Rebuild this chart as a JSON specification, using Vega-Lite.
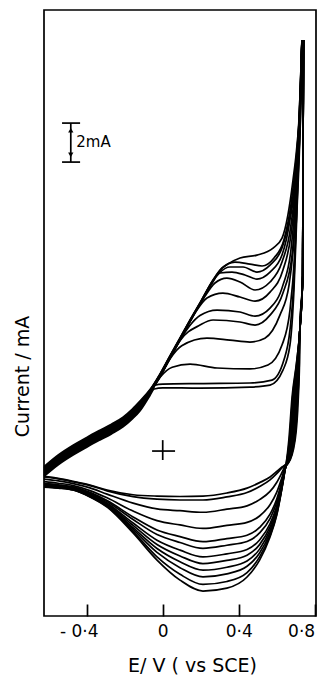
{
"$schema":"https://vega.github.io/schema/vega-lite/v6.json",
"width":272,"height":606,
"autosize":{"type":"none"},
"padding":{"left":44,"top":10,"right":8,"bottom":60},
"background":"white",
"config":{"view":{"stroke":"black","strokeWidth":1.7},"font":"DejaVu Sans"},
"datasets":{
"cv":[
{"s":"a1","E":-0.625,"I":-1.30},{"s":"a1","E":-0.55,"I":-0.70},{"s":"a1","E":-0.472,"I":-0.20},{"s":"a1","E":-0.40,"I":0.20},{"s":"a1","E":-0.33,"I":0.57},{"s":"a1","E":-0.27,"I":0.88},{"s":"a1","E":-0.209,"I":1.24},{"s":"a1","E":-0.16,"I":1.65},{"s":"a1","E":-0.12,"I":2.06},{"s":"a1","E":-0.067,"I":2.85},{"s":"a1","E":-0.045,"I":3.18},{"s":"a1","E":0.0,"I":3.24},{"s":"a1","E":0.196,"I":3.23},{"s":"a1","E":0.459,"I":3.28},{"s":"a1","E":0.565,"I":3.38},{"s":"a1","E":0.633,"I":4.15},{"s":"a1","E":0.670,"I":5.44},{"s":"a1","E":0.691,"I":8.26},{"s":"a1","E":0.707,"I":12.36},{"s":"a1","E":0.723,"I":16.46},{"s":"a1","E":0.733,"I":20.82},
{"s":"a2","E":-0.625,"I":-1.25},{"s":"a2","E":-0.55,"I":-0.65},{"s":"a2","E":-0.472,"I":-0.15},{"s":"a2","E":-0.40,"I":0.25},{"s":"a2","E":-0.33,"I":0.62},{"s":"a2","E":-0.27,"I":0.93},{"s":"a2","E":-0.209,"I":1.29},{"s":"a2","E":-0.16,"I":1.70},{"s":"a2","E":-0.12,"I":2.11},{"s":"a2","E":-0.067,"I":2.95},{"s":"a2","E":-0.04,"I":3.38},{"s":"a2","E":0.0,"I":3.43},{"s":"a2","E":0.196,"I":3.46},{"s":"a2","E":0.459,"I":3.49},{"s":"a2","E":0.575,"I":3.64},{"s":"a2","E":0.638,"I":4.67},{"s":"a2","E":0.670,"I":6.21},{"s":"a2","E":0.691,"I":8.77},{"s":"a2","E":0.707,"I":12.87},{"s":"a2","E":0.723,"I":16.97},{"s":"a2","E":0.733,"I":20.97},
{"s":"a3","E":-0.625,"I":-1.21},{"s":"a3","E":-0.55,"I":-0.61},{"s":"a3","E":-0.472,"I":-0.11},{"s":"a3","E":-0.40,"I":0.29},{"s":"a3","E":-0.33,"I":0.66},{"s":"a3","E":-0.27,"I":0.97},{"s":"a3","E":-0.209,"I":1.33},{"s":"a3","E":-0.16,"I":1.74},{"s":"a3","E":-0.12,"I":2.15},{"s":"a3","E":-0.067,"I":2.95},{"s":"a3","E":-0.014,"I":3.78},{"s":"a3","E":0.05,"I":4.30},{"s":"a3","E":0.144,"I":4.46},{"s":"a3","E":0.286,"I":4.26},{"s":"a3","E":0.459,"I":4.21},{"s":"a3","E":0.554,"I":4.41},{"s":"a3","E":0.628,"I":5.44},{"s":"a3","E":0.670,"I":7.23},{"s":"a3","E":0.696,"I":10.31},{"s":"a3","E":0.712,"I":13.90},{"s":"a3","E":0.723,"I":17.49},{"s":"a3","E":0.733,"I":20.97},
{"s":"a4","E":-0.625,"I":-1.16},{"s":"a4","E":-0.55,"I":-0.56},{"s":"a4","E":-0.472,"I":-0.06},{"s":"a4","E":-0.40,"I":0.34},{"s":"a4","E":-0.33,"I":0.71},{"s":"a4","E":-0.27,"I":1.02},{"s":"a4","E":-0.209,"I":1.38},{"s":"a4","E":-0.16,"I":1.79},{"s":"a4","E":-0.12,"I":2.20},{"s":"a4","E":-0.067,"I":3.00},{"s":"a4","E":-0.014,"I":3.80},{"s":"a4","E":0.038,"I":4.72},{"s":"a4","E":0.10,"I":5.40},{"s":"a4","E":0.233,"I":5.79},{"s":"a4","E":0.354,"I":5.69},{"s":"a4","E":0.459,"I":5.59},{"s":"a4","E":0.538,"I":5.79},{"s":"a4","E":0.617,"I":6.97},{"s":"a4","E":0.665,"I":8.51},{"s":"a4","E":0.691,"I":10.82},{"s":"a4","E":0.712,"I":14.41},{"s":"a4","E":0.728,"I":18.00},{"s":"a4","E":0.733,"I":20.97},
{"s":"a5","E":-0.625,"I":-1.12},{"s":"a5","E":-0.55,"I":-0.52},{"s":"a5","E":-0.472,"I":-0.02},{"s":"a5","E":-0.40,"I":0.38},{"s":"a5","E":-0.33,"I":0.75},{"s":"a5","E":-0.27,"I":1.06},{"s":"a5","E":-0.209,"I":1.42},{"s":"a5","E":-0.16,"I":1.83},{"s":"a5","E":-0.12,"I":2.24},{"s":"a5","E":-0.067,"I":3.03},{"s":"a5","E":-0.014,"I":3.82},{"s":"a5","E":0.038,"I":4.74},{"s":"a5","E":0.091,"I":5.66},{"s":"a5","E":0.196,"I":6.46},{"s":"a5","E":0.265,"I":6.72},{"s":"a5","E":0.407,"I":6.62},{"s":"a5","E":0.486,"I":6.46},{"s":"a5","E":0.565,"I":6.97},{"s":"a5","E":0.633,"I":8.10},{"s":"a5","E":0.681,"I":10.05},{"s":"a5","E":0.707,"I":13.90},{"s":"a5","E":0.723,"I":17.49},{"s":"a5","E":0.733,"I":21.03},
{"s":"a6","E":-0.625,"I":-1.07},{"s":"a6","E":-0.55,"I":-0.47},{"s":"a6","E":-0.472,"I":0.03},{"s":"a6","E":-0.40,"I":0.43},{"s":"a6","E":-0.33,"I":0.80},{"s":"a6","E":-0.27,"I":1.11},{"s":"a6","E":-0.209,"I":1.47},{"s":"a6","E":-0.16,"I":1.88},{"s":"a6","E":-0.12,"I":2.29},{"s":"a6","E":-0.067,"I":3.03},{"s":"a6","E":-0.014,"I":3.84},{"s":"a6","E":0.038,"I":4.76},{"s":"a6","E":0.091,"I":5.68},{"s":"a6","E":0.144,"I":6.45},{"s":"a6","E":0.196,"I":6.95},{"s":"a6","E":0.286,"I":7.23},{"s":"a6","E":0.407,"I":7.13},{"s":"a6","E":0.486,"I":6.92},{"s":"a6","E":0.565,"I":7.33},{"s":"a6","E":0.633,"I":8.51},{"s":"a6","E":0.675,"I":10.31},{"s":"a6","E":0.707,"I":14.15},{"s":"a6","E":0.723,"I":17.74},{"s":"a6","E":0.733,"I":21.03},
{"s":"a7","E":-0.625,"I":-1.03},{"s":"a7","E":-0.55,"I":-0.43},{"s":"a7","E":-0.472,"I":0.07},{"s":"a7","E":-0.40,"I":0.47},{"s":"a7","E":-0.33,"I":0.84},{"s":"a7","E":-0.27,"I":1.15},{"s":"a7","E":-0.209,"I":1.51},{"s":"a7","E":-0.16,"I":1.92},{"s":"a7","E":-0.12,"I":2.33},{"s":"a7","E":-0.067,"I":3.03},{"s":"a7","E":-0.014,"I":3.86},{"s":"a7","E":0.038,"I":4.78},{"s":"a7","E":0.091,"I":5.70},{"s":"a7","E":0.144,"I":6.63},{"s":"a7","E":0.175,"I":7.15},{"s":"a7","E":0.233,"I":7.85},{"s":"a7","E":0.317,"I":8.10},{"s":"a7","E":0.407,"I":7.90},{"s":"a7","E":0.486,"I":7.69},{"s":"a7","E":0.565,"I":8.15},{"s":"a7","E":0.633,"I":9.28},{"s":"a7","E":0.675,"I":11.08},{"s":"a7","E":0.707,"I":14.41},{"s":"a7","E":0.723,"I":18.00},{"s":"a7","E":0.733,"I":21.03},
{"s":"a8","E":-0.625,"I":-0.98},{"s":"a8","E":-0.55,"I":-0.38},{"s":"a8","E":-0.472,"I":0.12},{"s":"a8","E":-0.40,"I":0.52},{"s":"a8","E":-0.33,"I":0.89},{"s":"a8","E":-0.27,"I":1.20},{"s":"a8","E":-0.209,"I":1.56},{"s":"a8","E":-0.16,"I":1.97},{"s":"a8","E":-0.12,"I":2.38},{"s":"a8","E":-0.067,"I":3.05},{"s":"a8","E":-0.014,"I":3.88},{"s":"a8","E":0.038,"I":4.80},{"s":"a8","E":0.091,"I":5.72},{"s":"a8","E":0.144,"I":6.65},{"s":"a8","E":0.196,"I":7.52},{"s":"a8","E":0.223,"I":7.95},{"s":"a8","E":0.275,"I":8.62},{"s":"a8","E":0.338,"I":8.87},{"s":"a8","E":0.407,"I":8.67},{"s":"a8","E":0.486,"I":8.26},{"s":"a8","E":0.565,"I":8.67},{"s":"a8","E":0.628,"I":9.69},{"s":"a8","E":0.675,"I":11.59},{"s":"a8","E":0.707,"I":14.67},{"s":"a8","E":0.723,"I":18.00},{"s":"a8","E":0.733,"I":21.08},
{"s":"a9","E":-0.625,"I":-0.94},{"s":"a9","E":-0.55,"I":-0.34},{"s":"a9","E":-0.472,"I":0.16},{"s":"a9","E":-0.40,"I":0.56},{"s":"a9","E":-0.33,"I":0.93},{"s":"a9","E":-0.27,"I":1.24},{"s":"a9","E":-0.209,"I":1.60},{"s":"a9","E":-0.16,"I":2.01},{"s":"a9","E":-0.12,"I":2.42},{"s":"a9","E":-0.067,"I":3.07},{"s":"a9","E":-0.014,"I":3.90},{"s":"a9","E":0.038,"I":4.82},{"s":"a9","E":0.091,"I":5.74},{"s":"a9","E":0.144,"I":6.67},{"s":"a9","E":0.196,"I":7.54},{"s":"a9","E":0.254,"I":8.51},{"s":"a9","E":0.302,"I":9.13},{"s":"a9","E":0.365,"I":9.18},{"s":"a9","E":0.433,"I":9.03},{"s":"a9","E":0.496,"I":8.82},{"s":"a9","E":0.565,"I":9.18},{"s":"a9","E":0.628,"I":10.05},{"s":"a9","E":0.670,"I":11.85},{"s":"a9","E":0.707,"I":14.92},{"s":"a9","E":0.723,"I":18.26},{"s":"a9","E":0.733,"I":21.08},
{"s":"a10","E":-0.625,"I":-0.89},{"s":"a10","E":-0.55,"I":-0.29},{"s":"a10","E":-0.472,"I":0.21},{"s":"a10","E":-0.40,"I":0.61},{"s":"a10","E":-0.33,"I":0.98},{"s":"a10","E":-0.27,"I":1.29},{"s":"a10","E":-0.209,"I":1.65},{"s":"a10","E":-0.16,"I":2.06},{"s":"a10","E":-0.12,"I":2.47},{"s":"a10","E":-0.067,"I":3.10},{"s":"a10","E":-0.014,"I":3.92},{"s":"a10","E":0.038,"I":4.84},{"s":"a10","E":0.091,"I":5.76},{"s":"a10","E":0.144,"I":6.69},{"s":"a10","E":0.196,"I":7.56},{"s":"a10","E":0.265,"I":8.74},{"s":"a10","E":0.300,"I":9.15},{"s":"a10","E":0.354,"I":9.44},{"s":"a10","E":0.423,"I":9.44},{"s":"a10","E":0.496,"I":9.18},{"s":"a10","E":0.565,"I":9.54},{"s":"a10","E":0.628,"I":10.41},{"s":"a10","E":0.670,"I":12.10},{"s":"a10","E":0.707,"I":15.18},{"s":"a10","E":0.723,"I":18.26},{"s":"a10","E":0.733,"I":21.08},
{"s":"a11","E":-0.625,"I":-0.85},{"s":"a11","E":-0.55,"I":-0.25},{"s":"a11","E":-0.472,"I":0.25},{"s":"a11","E":-0.40,"I":0.65},{"s":"a11","E":-0.33,"I":1.02},{"s":"a11","E":-0.27,"I":1.33},{"s":"a11","E":-0.209,"I":1.69},{"s":"a11","E":-0.16,"I":2.10},{"s":"a11","E":-0.12,"I":2.51},{"s":"a11","E":-0.067,"I":3.12},{"s":"a11","E":-0.014,"I":3.94},{"s":"a11","E":0.038,"I":4.86},{"s":"a11","E":0.091,"I":5.78},{"s":"a11","E":0.144,"I":6.71},{"s":"a11","E":0.196,"I":7.58},{"s":"a11","E":0.265,"I":8.76},{"s":"a11","E":0.312,"I":9.37},{"s":"a11","E":0.380,"I":9.69},{"s":"a11","E":0.459,"I":9.59},{"s":"a11","E":0.523,"I":9.49},{"s":"a11","E":0.586,"I":9.90},{"s":"a11","E":0.638,"I":10.82},{"s":"a11","E":0.675,"I":12.62},{"s":"a11","E":0.707,"I":15.44},{"s":"a11","E":0.728,"I":18.51},{"s":"a11","E":0.733,"I":21.08},
{"s":"a12","E":-0.625,"I":-0.80},{"s":"a12","E":-0.55,"I":-0.20},{"s":"a12","E":-0.472,"I":0.30},{"s":"a12","E":-0.40,"I":0.70},{"s":"a12","E":-0.33,"I":1.07},{"s":"a12","E":-0.27,"I":1.38},{"s":"a12","E":-0.209,"I":1.74},{"s":"a12","E":-0.16,"I":2.15},{"s":"a12","E":-0.12,"I":2.56},{"s":"a12","E":-0.067,"I":3.15},{"s":"a12","E":-0.014,"I":3.96},{"s":"a12","E":0.038,"I":4.88},{"s":"a12","E":0.091,"I":5.80},{"s":"a12","E":0.144,"I":6.73},{"s":"a12","E":0.196,"I":7.60},{"s":"a12","E":0.265,"I":8.78},{"s":"a12","E":0.312,"I":9.39},{"s":"a12","E":0.344,"I":9.60},{"s":"a12","E":0.407,"I":9.90},{"s":"a12","E":0.496,"I":10.05},{"s":"a12","E":0.581,"I":10.41},{"s":"a12","E":0.628,"I":10.92},{"s":"a12","E":0.659,"I":12.10},{"s":"a12","E":0.686,"I":13.90},{"s":"a12","E":0.707,"I":15.69},{"s":"a12","E":0.728,"I":18.77},{"s":"a12","E":0.733,"I":21.08},
{"s":"c1","E":0.741,"I":21.08},{"s":"c1","E":0.739,"I":16.0},{"s":"c1","E":0.737,"I":9.0},{"s":"c1","E":0.722,"I":6.2},{"s":"c1","E":0.720,"I":4.5},{"s":"c1","E":0.714,"I":2.77},{"s":"c1","E":0.697,"I":0.56},{"s":"c1","E":0.661,"I":-0.62},{"s":"c1","E":0.644,"I":-0.72},{"s":"c1","E":0.628,"I":-0.82},{"s":"c1","E":0.600,"I":-1.05},{"s":"c1","E":0.565,"I":-1.33},{"s":"c1","E":0.510,"I":-1.62},{"s":"c1","E":0.444,"I":-1.90},{"s":"c1","E":0.338,"I":-2.15},{"s":"c1","E":0.212,"I":-2.31},{"s":"c1","E":0.091,"I":-2.33},{"s":"c1","E":-0.030,"I":-2.31},{"s":"c1","E":-0.156,"I":-2.24},{"s":"c1","E":-0.293,"I":-2.00},{"s":"c1","E":-0.383,"I":-1.74},{"s":"c1","E":-0.471,"I":-1.55},{"s":"c1","E":-0.550,"I":-1.40},{"s":"c1","E":-0.625,"I":-1.30},
{"s":"c2","E":0.741,"I":21.08},{"s":"c2","E":0.739,"I":16.0},{"s":"c2","E":0.737,"I":9.0},{"s":"c2","E":0.722,"I":6.2},{"s":"c2","E":0.719,"I":4.5},{"s":"c2","E":0.711,"I":2.77},{"s":"c2","E":0.694,"I":0.56},{"s":"c2","E":0.660,"I":-0.62},{"s":"c2","E":0.644,"I":-0.73},{"s":"c2","E":0.628,"I":-0.87},{"s":"c2","E":0.600,"I":-1.16},{"s":"c2","E":0.565,"I":-1.48},{"s":"c2","E":0.510,"I":-1.82},{"s":"c2","E":0.444,"I":-2.13},{"s":"c2","E":0.338,"I":-2.35},{"s":"c2","E":0.212,"I":-2.51},{"s":"c2","E":0.091,"I":-2.51},{"s":"c2","E":-0.030,"I":-2.47},{"s":"c2","E":-0.156,"I":-2.34},{"s":"c2","E":-0.293,"I":-2.04},{"s":"c2","E":-0.383,"I":-1.77},{"s":"c2","E":-0.471,"I":-1.58},{"s":"c2","E":-0.550,"I":-1.43},{"s":"c2","E":-0.625,"I":-1.33},
{"s":"c3","E":0.741,"I":21.08},{"s":"c3","E":0.739,"I":16.0},{"s":"c3","E":0.737,"I":9.0},{"s":"c3","E":0.722,"I":6.2},{"s":"c3","E":0.717,"I":4.5},{"s":"c3","E":0.708,"I":2.77},{"s":"c3","E":0.691,"I":0.56},{"s":"c3","E":0.659,"I":-0.62},{"s":"c3","E":0.644,"I":-0.79},{"s":"c3","E":0.628,"I":-1.10},{"s":"c3","E":0.600,"I":-1.61},{"s":"c3","E":0.565,"I":-2.07},{"s":"c3","E":0.510,"I":-2.49},{"s":"c3","E":0.444,"I":-2.81},{"s":"c3","E":0.338,"I":-2.98},{"s":"c3","E":0.212,"I":-3.14},{"s":"c3","E":0.091,"I":-3.06},{"s":"c3","E":-0.030,"I":-2.97},{"s":"c3","E":-0.156,"I":-2.67},{"s":"c3","E":-0.293,"I":-2.21},{"s":"c3","E":-0.383,"I":-1.89},{"s":"c3","E":-0.471,"I":-1.67},{"s":"c3","E":-0.550,"I":-1.53},{"s":"c3","E":-0.625,"I":-1.44},
{"s":"c4","E":0.741,"I":21.08},{"s":"c4","E":0.739,"I":16.0},{"s":"c4","E":0.737,"I":9.0},{"s":"c4","E":0.722,"I":6.2},{"s":"c4","E":0.716,"I":4.5},{"s":"c4","E":0.705,"I":2.77},{"s":"c4","E":0.688,"I":0.56},{"s":"c4","E":0.658,"I":-0.62},{"s":"c4","E":0.644,"I":-0.84},{"s":"c4","E":0.628,"I":-1.35},{"s":"c4","E":0.600,"I":-2.12},{"s":"c4","E":0.565,"I":-2.75},{"s":"c4","E":0.510,"I":-3.33},{"s":"c4","E":0.444,"I":-3.66},{"s":"c4","E":0.338,"I":-3.81},{"s":"c4","E":0.212,"I":-3.97},{"s":"c4","E":0.091,"I":-3.79},{"s":"c4","E":-0.030,"I":-3.57},{"s":"c4","E":-0.156,"I":-3.08},{"s":"c4","E":-0.293,"I":-2.40},{"s":"c4","E":-0.383,"I":-2.03},{"s":"c4","E":-0.471,"I":-1.77},{"s":"c4","E":-0.550,"I":-1.65},{"s":"c4","E":-0.625,"I":-1.57},
{"s":"c5","E":0.741,"I":21.08},{"s":"c5","E":0.739,"I":16.0},{"s":"c5","E":0.737,"I":9.0},{"s":"c5","E":0.722,"I":6.2},{"s":"c5","E":0.714,"I":4.5},{"s":"c5","E":0.702,"I":2.77},{"s":"c5","E":0.685,"I":0.56},{"s":"c5","E":0.657,"I":-0.62},{"s":"c5","E":0.644,"I":-0.88},{"s":"c5","E":0.628,"I":-1.52},{"s":"c5","E":0.600,"I":-2.47},{"s":"c5","E":0.565,"I":-3.24},{"s":"c5","E":0.510,"I":-3.92},{"s":"c5","E":0.444,"I":-4.32},{"s":"c5","E":0.338,"I":-4.49},{"s":"c5","E":0.212,"I":-4.65},{"s":"c5","E":0.091,"I":-4.39},{"s":"c5","E":-0.030,"I":-4.05},{"s":"c5","E":-0.156,"I":-3.38},{"s":"c5","E":-0.293,"I":-2.54},{"s":"c5","E":-0.383,"I":-2.12},{"s":"c5","E":-0.471,"I":-1.84},{"s":"c5","E":-0.550,"I":-1.73},{"s":"c5","E":-0.625,"I":-1.66},
{"s":"c6","E":0.741,"I":21.08},{"s":"c6","E":0.739,"I":16.0},{"s":"c6","E":0.737,"I":9.0},{"s":"c6","E":0.722,"I":6.2},{"s":"c6","E":0.713,"I":4.5},{"s":"c6","E":0.699,"I":2.77},{"s":"c6","E":0.682,"I":0.56},{"s":"c6","E":0.656,"I":-0.62},{"s":"c6","E":0.644,"I":-0.90},{"s":"c6","E":0.628,"I":-1.60},{"s":"c6","E":0.600,"I":-2.63},{"s":"c6","E":0.565,"I":-3.46},{"s":"c6","E":0.510,"I":-4.20},{"s":"c6","E":0.444,"I":-4.64},{"s":"c6","E":0.338,"I":-4.83},{"s":"c6","E":0.212,"I":-4.99},{"s":"c6","E":0.091,"I":-4.69},{"s":"c6","E":-0.030,"I":-4.28},{"s":"c6","E":-0.156,"I":-3.51},{"s":"c6","E":-0.293,"I":-2.60},{"s":"c6","E":-0.383,"I":-2.17},{"s":"c6","E":-0.471,"I":-1.87},{"s":"c6","E":-0.550,"I":-1.76},{"s":"c6","E":-0.625,"I":-1.70},
{"s":"c7","E":0.741,"I":21.08},{"s":"c7","E":0.739,"I":16.0},{"s":"c7","E":0.737,"I":9.0},{"s":"c7","E":0.722,"I":6.2},{"s":"c7","E":0.711,"I":4.5},{"s":"c7","E":0.696,"I":2.77},{"s":"c7","E":0.679,"I":0.56},{"s":"c7","E":0.655,"I":-0.62},{"s":"c7","E":0.644,"I":-0.92},{"s":"c7","E":0.628,"I":-1.69},{"s":"c7","E":0.600,"I":-2.83},{"s":"c7","E":0.565,"I":-3.73},{"s":"c7","E":0.510,"I":-4.56},{"s":"c7","E":0.444,"I":-5.05},{"s":"c7","E":0.338,"I":-5.27},{"s":"c7","E":0.212,"I":-5.43},{"s":"c7","E":0.091,"I":-5.08},{"s":"c7","E":-0.030,"I":-4.57},{"s":"c7","E":-0.156,"I":-3.69},{"s":"c7","E":-0.293,"I":-2.68},{"s":"c7","E":-0.383,"I":-2.22},{"s":"c7","E":-0.471,"I":-1.91},{"s":"c7","E":-0.550,"I":-1.81},{"s":"c7","E":-0.625,"I":-1.75},
{"s":"c8","E":0.741,"I":21.08},{"s":"c8","E":0.739,"I":16.0},{"s":"c8","E":0.737,"I":9.0},{"s":"c8","E":0.722,"I":6.2},{"s":"c8","E":0.710,"I":4.5},{"s":"c8","E":0.693,"I":2.77},{"s":"c8","E":0.676,"I":0.56},{"s":"c8","E":0.654,"I":-0.62},{"s":"c8","E":0.644,"I":-0.94},{"s":"c8","E":0.628,"I":-1.75},{"s":"c8","E":0.600,"I":-2.95},{"s":"c8","E":0.565,"I":-3.89},{"s":"c8","E":0.510,"I":-4.80},{"s":"c8","E":0.444,"I":-5.34},{"s":"c8","E":0.338,"I":-5.61},{"s":"c8","E":0.212,"I":-5.77},{"s":"c8","E":0.091,"I":-5.38},{"s":"c8","E":-0.030,"I":-4.79},{"s":"c8","E":-0.156,"I":-3.81},{"s":"c8","E":-0.293,"I":-2.72},{"s":"c8","E":-0.383,"I":-2.26},{"s":"c8","E":-0.471,"I":-1.94},{"s":"c8","E":-0.550,"I":-1.83},{"s":"c8","E":-0.625,"I":-1.77},
{"s":"c9","E":0.741,"I":21.08},{"s":"c9","E":0.739,"I":16.0},{"s":"c9","E":0.737,"I":9.0},{"s":"c9","E":0.722,"I":6.2},{"s":"c9","E":0.708,"I":4.5},{"s":"c9","E":0.690,"I":2.77},{"s":"c9","E":0.673,"I":0.56},{"s":"c9","E":0.653,"I":-0.62},{"s":"c9","E":0.644,"I":-0.95},{"s":"c9","E":0.628,"I":-1.80},{"s":"c9","E":0.600,"I":-3.08},{"s":"c9","E":0.565,"I":-4.04},{"s":"c9","E":0.510,"I":-5.03},{"s":"c9","E":0.444,"I":-5.64},{"s":"c9","E":0.338,"I":-5.96},{"s":"c9","E":0.212,"I":-6.11},{"s":"c9","E":0.091,"I":-5.68},{"s":"c9","E":-0.030,"I":-5.00},{"s":"c9","E":-0.156,"I":-3.93},{"s":"c9","E":-0.293,"I":-2.77},{"s":"c9","E":-0.383,"I":-2.29},{"s":"c9","E":-0.471,"I":-1.96},{"s":"c9","E":-0.550,"I":-1.86},{"s":"c9","E":-0.625,"I":-1.80},
{"s":"c10","E":0.741,"I":21.08},{"s":"c10","E":0.739,"I":16.0},{"s":"c10","E":0.737,"I":9.0},{"s":"c10","E":0.722,"I":6.2},{"s":"c10","E":0.707,"I":4.5},{"s":"c10","E":0.687,"I":2.77},{"s":"c10","E":0.670,"I":0.56},{"s":"c10","E":0.652,"I":-0.62},{"s":"c10","E":0.644,"I":-0.96},{"s":"c10","E":0.628,"I":-1.85},{"s":"c10","E":0.600,"I":-3.17},{"s":"c10","E":0.565,"I":-4.19},{"s":"c10","E":0.510,"I":-5.23},{"s":"c10","E":0.444,"I":-5.91},{"s":"c10","E":0.338,"I":-6.30},{"s":"c10","E":0.212,"I":-6.45},{"s":"c10","E":0.091,"I":-5.98},{"s":"c10","E":-0.030,"I":-5.20},{"s":"c10","E":-0.156,"I":-4.02},{"s":"c10","E":-0.293,"I":-2.81},{"s":"c10","E":-0.383,"I":-2.31},{"s":"c10","E":-0.471,"I":-1.98},{"s":"c10","E":-0.550,"I":-1.88},{"s":"c10","E":-0.625,"I":-1.82},
{"s":"c11","E":0.741,"I":21.08},{"s":"c11","E":0.739,"I":16.0},{"s":"c11","E":0.737,"I":9.0},{"s":"c11","E":0.722,"I":6.2},{"s":"c11","E":0.705,"I":4.5},{"s":"c11","E":0.684,"I":2.77},{"s":"c11","E":0.667,"I":0.56},{"s":"c11","E":0.651,"I":-0.62},{"s":"c11","E":0.644,"I":-0.97},{"s":"c11","E":0.628,"I":-1.88},{"s":"c11","E":0.600,"I":-3.26},{"s":"c11","E":0.565,"I":-4.32},{"s":"c11","E":0.510,"I":-5.43},{"s":"c11","E":0.444,"I":-6.23},{"s":"c11","E":0.338,"I":-6.69},{"s":"c11","E":0.212,"I":-6.84},{"s":"c11","E":0.091,"I":-6.32},{"s":"c11","E":-0.030,"I":-5.43},{"s":"c11","E":-0.156,"I":-4.12},{"s":"c11","E":-0.293,"I":-2.84},{"s":"c11","E":-0.383,"I":-2.34},{"s":"c11","E":-0.471,"I":-1.99},{"s":"c11","E":-0.550,"I":-1.89},{"s":"c11","E":-0.625,"I":-1.84},
{"s":"c12","E":0.741,"I":21.08},{"s":"c12","E":0.739,"I":16.0},{"s":"c12","E":0.737,"I":9.0},{"s":"c12","E":0.722,"I":6.2},{"s":"c12","E":0.704,"I":4.5},{"s":"c12","E":0.681,"I":2.77},{"s":"c12","E":0.664,"I":0.56},{"s":"c12","E":0.650,"I":-0.62},{"s":"c12","E":0.644,"I":-0.97},{"s":"c12","E":0.628,"I":-1.90},{"s":"c12","E":0.600,"I":-3.30},{"s":"c12","E":0.565,"I":-4.41},{"s":"c12","E":0.510,"I":-5.59},{"s":"c12","E":0.444,"I":-6.46},{"s":"c12","E":0.338,"I":-7.03},{"s":"c12","E":0.212,"I":-7.18},{"s":"c12","E":0.091,"I":-6.62},{"s":"c12","E":-0.030,"I":-5.59},{"s":"c12","E":-0.156,"I":-4.20},{"s":"c12","E":-0.293,"I":-2.87},{"s":"c12","E":-0.383,"I":-2.35},{"s":"c12","E":-0.471,"I":-2.00},{"s":"c12","E":-0.550,"I":-1.90},{"s":"c12","E":-0.625,"I":-1.85}
],
"ann":[
{"E":-0.056,"E2":0.065,"I":0,"I2":0},
{"E":0,"E2":0,"I":-0.46,"I2":0.56},
{"E":-0.484,"E2":-0.484,"I":14.82,"I2":16.82},
{"E":-0.530,"E2":-0.435,"I":16.82,"I2":16.82},
{"E":-0.530,"E2":-0.435,"I":14.82,"I2":14.82}
],
"up":[{"E":-0.484,"I":16.45}],
"down":[{"E":-0.484,"I":15.19}],
"lab":[{"E":-0.455,"I":15.85,"t":"2mA"}]
},
"layer":[
{"data":{"name":"cv"},
 "mark":{"type":"line","interpolate":"monotone","color":"black","strokeWidth":1.7},
 "encoding":{
  "x":{"field":"E","type":"quantitative","title":"E/ V ( vs SCE)",
   "scale":{"domain":[-0.625,0.807],"nice":false,"zero":false},
   "axis":{"values":[-0.4,0,0.4,0.8],
     "labelExpr":"datum.value == 0 ? '0' : (datum.value < 0 ? '- ' : '') + replace(format(abs(datum.value), '.1f'), '.', '·')",
     "tickSize":-12,"tickWidth":1.7,"tickColor":"black","domain":false,"grid":false,
     "labelFontSize":17,"labelColor":"black","labelPadding":19,"labelFlush":3,
     "labelOffset":{"condition":{"test":"datum.value < 0","value":-8},"value":0},
     "titleFontSize":19,"titleFontWeight":"normal","titleColor":"black",
     "titleX":148,"titleY":55,"titleBaseline":"alphabetic","titleAlign":"center"}},
  "y":{"field":"I","type":"quantitative","title":"Current / mA",
   "scale":{"domain":[-8.46,22.62],"nice":false,"zero":false},
   "axis":{"labels":false,"ticks":false,"domain":false,"grid":false,
     "titleFontSize":19,"titleFontWeight":"normal","titleColor":"black",
     "titleX":-16,"titleY":366,"titleAngle":270,"titleBaseline":"alphabetic","titleAlign":"center"}},
  "detail":{"field":"s","type":"nominal"}
 }},
{"data":{"name":"ann"},
 "mark":{"type":"rule","color":"black","strokeWidth":1.7},
 "encoding":{
  "x":{"field":"E","type":"quantitative","title":"E/ V ( vs SCE)"},
  "x2":{"field":"E2"},
  "y":{"field":"I","type":"quantitative","title":"Current / mA"},
  "y2":{"field":"I2"}
 }},
{"data":{"name":"up"},
 "mark":{"type":"point","shape":"triangle-up","filled":true,"color":"black","size":28,"opacity":1},
 "encoding":{
  "x":{"field":"E","type":"quantitative","title":"E/ V ( vs SCE)"},
  "y":{"field":"I","type":"quantitative","title":"Current / mA"}
 }},
{"data":{"name":"down"},
 "mark":{"type":"point","shape":"triangle-down","filled":true,"color":"black","size":28,"opacity":1},
 "encoding":{
  "x":{"field":"E","type":"quantitative","title":"E/ V ( vs SCE)"},
  "y":{"field":"I","type":"quantitative","title":"Current / mA"}
 }},
{"data":{"name":"lab"},
 "mark":{"type":"text","align":"left","baseline":"middle","fontSize":15,"color":"black","font":"DejaVu Sans"},
 "encoding":{
  "x":{"field":"E","type":"quantitative","title":"E/ V ( vs SCE)"},
  "y":{"field":"I","type":"quantitative","title":"Current / mA"},
  "text":{"field":"t"}
 }}
]
}
